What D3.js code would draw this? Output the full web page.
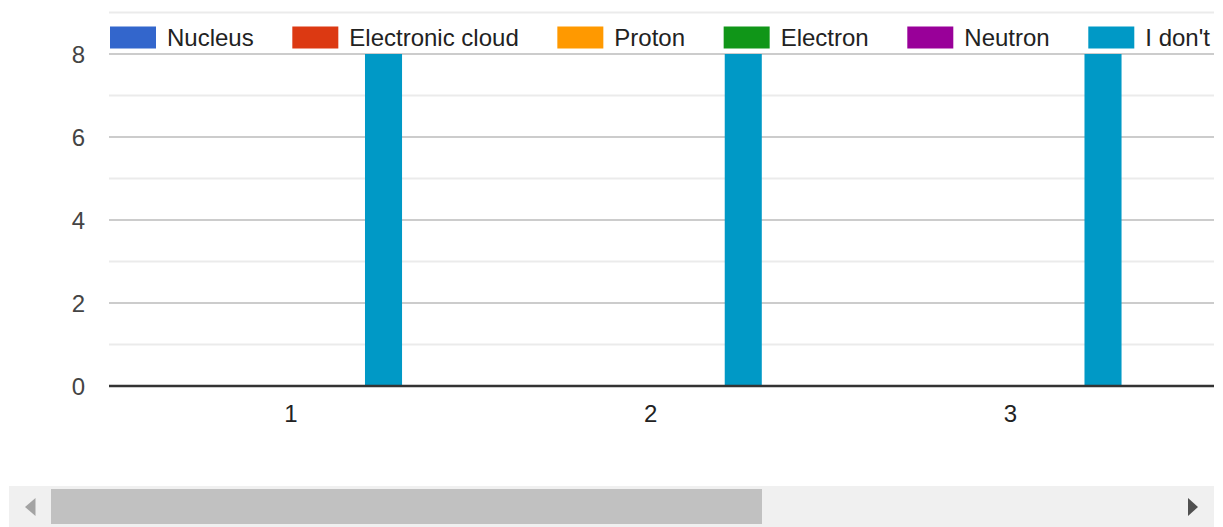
<!DOCTYPE html>
<html>
<head>
<meta charset="utf-8">
<script src="https://cdn.jsdelivr.net/npm/d3@7/dist/d3.min.js"></script>
<style>
  html, body { margin: 0; padding: 0; background: #fff; }
  svg { display: block; font-family: "Liberation Sans", Arial, sans-serif; }
</style>
</head>
<body>
<svg id="chart" width="1223" height="527"></svg>
<script>
// Answers per question number
const categories = ["1", "2", "3"];
const seriesNames = ["Nucleus", "Electronic cloud", "Proton", "Electron", "Neutron", "I don't know"];
const seriesColors = ["#3366cc", "#dc3912", "#ff9900", "#109618", "#990099", "#0099c6"];
const nucleus = [0, 0, 0];
const electronicCloud = [0, 0, 0];
const proton = [0, 0, 0];
const electron = [0, 0, 0];
const neutron = [0, 0, 0];
const dontKnow = [8, 8, 8];
const yMajorTicks = [0, 2, 4, 6, 8];
const yMinorTicks = [1, 3, 5, 7, 9];

const seriesValues = [nucleus, electronicCloud, proton, electron, neutron, dontKnow];

const svg = d3.select("#chart");
const viewRight = 1214;        // visible edge of the scrolling chart area
const plotLeft = 109;
const plotTop = 12.5, plotBottom = 386;

svg.append("defs").append("clipPath").attr("id", "view")
  .append("rect").attr("x", 0).attr("y", 0).attr("width", viewRight).attr("height", 470);

const root = svg.append("g").attr("clip-path", "url(#view)");

const y = d3.scaleLinear().domain([0, 9]).range([plotBottom, plotTop]);

const x0 = d3.scaleBand().domain(categories)
  .range([111, 1190.25]).paddingInner(0.382).paddingOuter(0.191);
const x1 = d3.scaleBand().domain(d3.range(seriesNames.length))
  .range([0, x0.bandwidth()]).padding(0);

// gridlines
root.append("g").selectAll("line").data(yMinorTicks).join("line")
  .attr("x1", plotLeft).attr("x2", viewRight)
  .attr("y1", d => y(d)).attr("y2", d => y(d))
  .attr("stroke", "#ebebeb").attr("stroke-width", 2);
root.append("g").selectAll("line").data(yMajorTicks.filter(d => d !== 0)).join("line")
  .attr("x1", plotLeft).attr("x2", viewRight)
  .attr("y1", d => y(d)).attr("y2", d => y(d))
  .attr("stroke", "#cccccc").attr("stroke-width", 2.2);

// y tick labels
const yAxis = d3.axisLeft(y).tickValues(yMajorTicks).tickSize(0).tickPadding(0);
const yg = root.append("g").attr("transform", "translate(85,0)").call(yAxis);
yg.select(".domain").remove();
yg.selectAll("text").attr("fill", "#444").attr("font-size", 24)
  .attr("font-family", "Liberation Sans, Arial, sans-serif")
  .attr("dy", "0.36em");

// bars
const groups = root.append("g").selectAll("g").data(categories).join("g")
  .attr("transform", d => `translate(${x0(d)},0)`);
groups.selectAll("rect")
  .data((c, ci) => seriesValues.map((vals, si) => ({ si, v: vals[ci] })))
  .join("rect")
  .attr("x", d => x1(d.si))
  .attr("width", x1.bandwidth())
  .attr("y", d => y(d.v))
  .attr("height", d => y(0) - y(d.v))
  .attr("fill", d => seriesColors[d.si]);

// baseline
root.append("line")
  .attr("x1", plotLeft).attr("x2", viewRight)
  .attr("y1", y(0)).attr("y2", y(0))
  .attr("stroke", "#333").attr("stroke-width", 2.7);

// x labels
const xAxis = d3.axisBottom(x0).tickSize(0).tickPadding(0);
const xg = root.append("g").attr("transform", `translate(0,${y(0)})`).call(xAxis);
xg.select(".domain").remove();
xg.selectAll("text").attr("fill", "#222").attr("font-size", 24)
  .attr("font-family", "Liberation Sans, Arial, sans-serif")
  .attr("dy", null).attr("y", 36);

// legend (the last entry runs past the visible edge of the scroll area)
const legend = root.append("g");
let lx = 110;
seriesNames.forEach((name, i) => {
  const item = legend.append("g");
  item.append("rect").attr("x", lx).attr("y", 26.5).attr("width", 46).attr("height", 22)
    .attr("fill", seriesColors[i]);
  const t = item.append("text").attr("x", lx + 57).attr("y", 46)
    .attr("font-size", 24).attr("fill", "#222").text(name);
  lx = lx + 57 + t.node().getComputedTextLength() + 38.6;
});

// horizontal scrollbar
const sb = svg.append("g");
sb.append("rect").attr("x", 9).attr("y", 486).attr("width", viewRight - 9).attr("height", 41)
  .attr("fill", "#f0f0f0");
sb.append("rect").attr("x", 51).attr("y", 489).attr("width", 711).attr("height", 35)
  .attr("fill", "#c1c1c1");
sb.append("path").attr("d", "M35.5,498L25,507L35.5,516Z").attr("fill", "#a3a3a3");
sb.append("path").attr("d", "M1188,498L1198,507L1188,516Z").attr("fill", "#505050");
</script>
</body>
</html>
